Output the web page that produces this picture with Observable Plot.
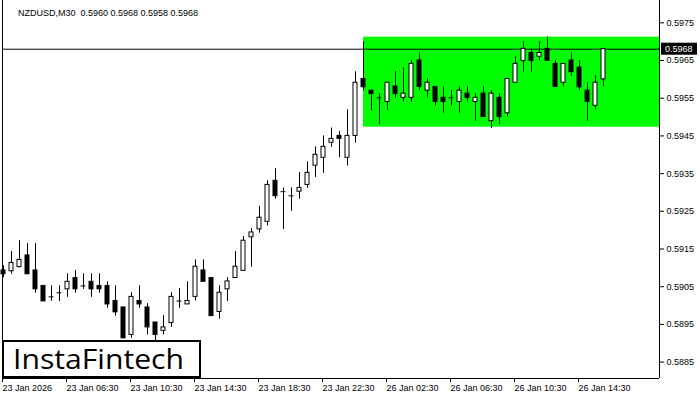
<!DOCTYPE html>
<html><head><meta charset="utf-8">
<script src="https://cdn.jsdelivr.net/npm/d3@7"></script>
<script src="https://cdn.jsdelivr.net/npm/@observablehq/plot@0.6"></script>
<style>
body{margin:0;background:#fff;}
#wrap{position:relative;width:700px;height:400px;overflow:hidden;background:#fff;}
#logo{position:absolute;left:2px;top:340px;width:199px;height:38px;box-sizing:border-box;border:2px solid #000;background:#fff;}
#logo svg{position:absolute;left:0;top:-10px;overflow:visible;display:block;}
</style></head><body><div id="wrap"><div id="logo"></div></div>
<script>
const symbol = "NZDUSD,M30";
const headerValues = [0.5960, 0.5968, 0.5958, 0.5968];
const brand = "InstaFintech";

const opens = [0.59093,0.59091,0.59102,0.59133,0.59093,0.59052,0.59023,0.59034,0.59043,0.59073,
0.59052,0.59063,0.59052,0.59052,0.59012,0.58995,0.58922,0.59012,0.58995,0.58955,
0.58933,0.58954,0.59012,0.59003,0.59023,0.59093,0.59073,0.58983,0.59043,0.59073,
0.59092,0.59181,0.59202,0.59222,0.59331,0.59302,0.59291,0.59302,0.59320,0.59371,
0.59392,0.59432,0.59450,0.59392,0.59450,0.59601,0.59570,0.59551,0.59540,0.59581,
0.59551,0.59551,0.59650,0.59570,0.59580,0.59551,0.59551,0.59540,0.59562,0.59540,
0.59562,0.59489,0.59551,0.59510,0.59591,0.59649,0.59670,0.59660,0.59681,0.59641,
0.59591,0.59650,0.59631,0.59570,0.59530,0.59600];
const highs = [0.59106,0.59143,0.59172,0.59164,0.59164,0.59052,0.59052,0.59052,0.59084,0.59093,
0.59084,0.59084,0.59084,0.59063,0.59052,0.58995,0.59034,0.59052,0.59005,0.58955,
0.58973,0.59034,0.59045,0.59063,0.59121,0.59121,0.59073,0.59052,0.59074,0.59143,
0.59183,0.59204,0.59263,0.59331,0.59363,0.59312,0.59312,0.59353,0.59381,0.59421,
0.59450,0.59471,0.59462,0.59519,0.59620,0.59700,0.59570,0.59562,0.59591,0.59621,
0.59631,0.59650,0.59670,0.59601,0.59580,0.59581,0.59570,0.59581,0.59581,0.59562,
0.59581,0.59570,0.59562,0.59601,0.59660,0.59700,0.59681,0.59700,0.59712,0.59650,
0.59641,0.59670,0.59650,0.59591,0.59610,0.59680];
const lows = [0.59074,0.59083,0.59100,0.59083,0.59033,0.59011,0.59011,0.59011,0.59022,0.59033,
0.59043,0.59022,0.59033,0.58993,0.58972,0.58913,0.58913,0.58993,0.58922,0.58907,
0.58922,0.58942,0.58993,0.59003,0.59012,0.59063,0.58972,0.58964,0.59011,0.59073,
0.59092,0.59102,0.59192,0.59211,0.59282,0.59202,0.59250,0.59282,0.59311,0.59340,
0.59351,0.59420,0.59392,0.59370,0.59431,0.59569,0.59517,0.59480,0.59517,0.59550,
0.59540,0.59540,0.59570,0.59550,0.59530,0.59510,0.59530,0.59510,0.59540,0.59489,
0.59500,0.59470,0.59480,0.59500,0.59591,0.59619,0.59619,0.59649,0.59649,0.59580,
0.59580,0.59608,0.59570,0.59489,0.59519,0.59580];
const closes = [0.59083,0.59113,0.59121,0.59083,0.59043,0.59011,0.59023,0.59034,0.59063,0.59043,
0.59052,0.59043,0.59043,0.59003,0.58982,0.58913,0.59023,0.59003,0.58942,0.58922,
0.58942,0.59023,0.59012,0.59012,0.59103,0.59063,0.58972,0.59034,0.59064,0.59103,
0.59172,0.59194,0.59233,0.59320,0.59290,0.59302,0.59291,0.59312,0.59352,0.59400,
0.59421,0.59442,0.59442,0.59450,0.59591,0.59579,0.59561,0.59551,0.59591,0.59561,
0.59562,0.59641,0.59580,0.59591,0.59540,0.59540,0.59551,0.59570,0.59551,0.59551,
0.59500,0.59562,0.59500,0.59601,0.59641,0.59681,0.59649,0.59670,0.59649,0.59580,
0.59641,0.59619,0.59579,0.59540,0.59591,0.59680];

const timeTickIndex = [0, 8, 16, 24, 32, 40, 48, 56, 64, 72];
const timeTickLabels = ["23 Jan 2026","23 Jan 06:30","23 Jan 10:30","23 Jan 14:30","23 Jan 18:30",
"23 Jan 22:30","26 Jan 02:30","26 Jan 06:30","26 Jan 10:30","26 Jan 14:30"];
const priceTicks = [0.5885,0.5895,0.5905,0.5915,0.5925,0.5935,0.5945,0.5955,0.5965,0.5975];

const rangeTop = 0.59712;
const rangeBottom = 0.59473;
const rangeStartIndex = 45;
const lastPrice = 0.5968;

const xDomain = [-0.125, 82];
const yDomain = [0.588065, 0.598092];

const candles = opens.map((o, i) => ({i, open: o, high: highs[i], low: lows[i], close: closes[i]}));
const bodies = candles.filter(d => d.open !== d.close);
const dojis = candles.filter(d => d.open === d.close);
const labelMap = new Map(timeTickIndex.map((t, k) => [t, timeTickLabels[k]]));
const font = "'Liberation Sans', Arial, sans-serif";

const plot = Plot.plot({
  width: 700, height: 400,
  marginLeft: 2, marginRight: 41, marginTop: 0, marginBottom: 22,
  x: {type: "linear", domain: xDomain},
  y: {type: "linear", domain: yDomain},
  style: {fontFamily: font, fontSize: "9px", background: "#fff", color: "#000", overflow: "visible"},
  marks: [
    Plot.rect([{x1: rangeStartIndex, x2: xDomain[1], y1: rangeBottom, y2: rangeTop}],
      {x1: "x1", x2: "x2", y1: "y1", y2: "y2", fill: "#00ff00"}),
    Plot.ruleY([lastPrice], {stroke: "#000", strokeWidth: 1}),
    Plot.ruleX(candles, {x: "i", y1: "low", y2: "high", stroke: "#000"}),
    Plot.rect(bodies, {x1: d => d.i - 0.25, x2: d => d.i + 0.25, y1: "open", y2: "close",
      fill: d => d.close > d.open ? "#fff" : "#000", stroke: "#000", strokeWidth: 1}),
    Plot.ruleY(dojis, {y: "open", x1: d => d.i - 0.3125, x2: d => d.i + 0.3125, stroke: "#000"}),
    Plot.ruleX([xDomain[0], xDomain[1]], {stroke: "#000"}),
    Plot.ruleY([yDomain[0]], {stroke: "#000"}),
    Plot.axisY(priceTicks, {anchor: "right", tickSize: 4, tickPadding: 3, tickFormat: d => d.toFixed(4)}),
    Plot.axisX(timeTickIndex, {anchor: "bottom", tickSize: 4, tickPadding: 2, textAnchor: "start", dx: -1,
      tickFormat: d => labelMap.get(d)})
  ]
});
document.getElementById("wrap").prepend(plot);

const svg = d3.select(plot);
const py = plot.scale("y").apply(lastPrice);
const xRight = 700 - 41;
svg.append("rect").attr("x", xRight + 2).attr("y", py - 6).attr("width", 36).attr("height", 12).attr("fill", "#000");
svg.append("text").attr("x", xRight + 6).attr("y", py).attr("dy", "0.35em").attr("fill", "#fff")
  .attr("text-anchor", "start").attr("font-family", font).attr("font-size", 9).text(lastPrice.toFixed(4));
svg.append("text").attr("x", 18).attr("y", 13).attr("dy", "0.35em").attr("fill", "#000")
  .attr("text-anchor", "start").attr("font-family", font).attr("font-size", 9).style("white-space", "pre")
  .text(symbol + "  " + headerValues.map(v => v.toFixed(4)).join(" "));

const logo = d3.select("#logo").append("svg").attr("width", 195).attr("height", 48);
logo.append("text").attr("x", 9).attr("y", 37).attr("text-anchor", "start").attr("font-family", "'Open Sans', sans-serif")
  .attr("font-size", 28).attr("font-weight", 500).attr("textLength", 171).attr("lengthAdjust", "spacingAndGlyphs")
  .attr("fill", "#000").text(brand);
</script>
</body></html>
